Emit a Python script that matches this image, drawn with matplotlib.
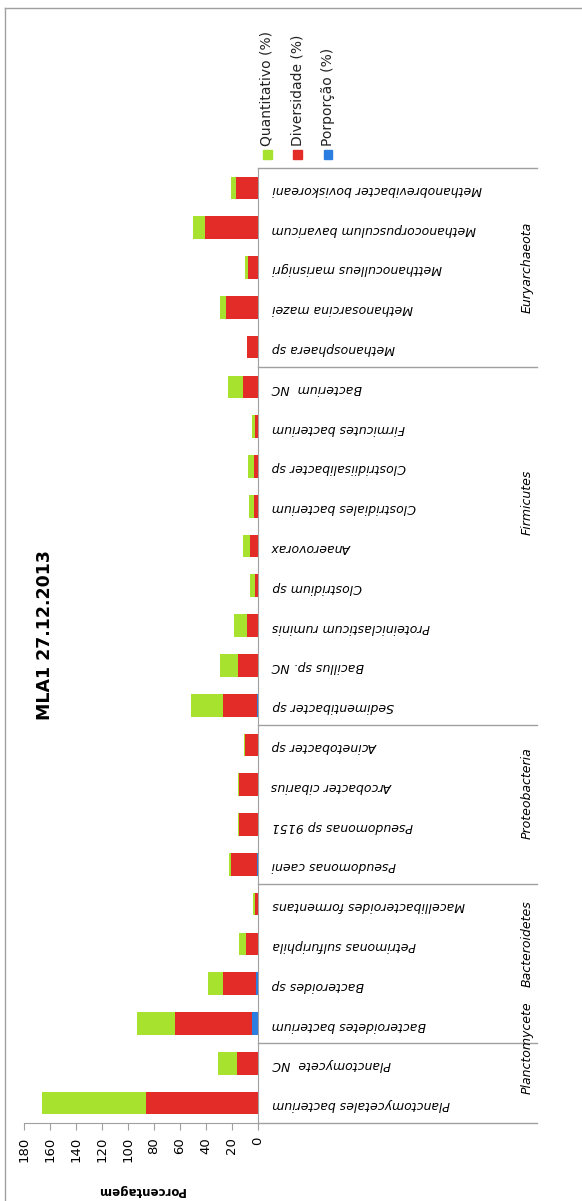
import numpy as np
import matplotlib.pyplot as plt
from matplotlib.patches import Rectangle
from matplotlib.lines import Line2D

### data ###
species = ['Methanobrevibacter boviskoreani', 'Methanocorpusculum bavaricum',
           'Metthanoculleus marisnigri', 'Methanosarcina mazei', 'Methanosphaera sp',
           'Bacterium  NC', 'Firmicutes bacterium', 'Clostridiisalibacter sp',
           'Clostridiales bacterium', 'Anaerovorax', 'Clostridium sp',
           'Proteiniclasticum ruminis', 'Bacillus sp. NC', 'Sedimentibacter sp',
           'Acinetobacter sp', 'Arcobacter cibarius', 'Pseudomonas sp 9151',
           'Pseudomonas caeni', 'Macellibacteroides formentans', 'Petrimonas sulfuriphila',
           'Bacteroides sp', 'Bacteroidetes bacterium', 'Planctomycete  NC',
           'Planctomycetales bacterium']
porporcao = [0, 0, 0, 0, 0,
             0, 0, 0, 0, 0, 0, 0, 0, 0.8,
             0, 0, 0, 0.8,
             0, 0, 1.3, 4.3,
             0, 0]
diversidade = [16.6, 40.9, 7.7, 24.5, 8.2,
               11.6, 2.0, 3.1, 3.1, 5.9, 2.0, 8.7, 15.6, 26.3,
               9.7, 14.8, 14.8, 20.0,
               2.5, 9.5, 25.8, 59.5,
               16.1, 86.0]
quantitativo = [4.1, 8.9, 2.3, 4.9, 0.6,
                11.8, 2.8, 4.9, 3.8, 5.9, 4.1, 10.0, 13.8, 24.5,
                0.8, 0.8, 0.8, 1.5,
                1.2, 4.9, 11.5, 29.4,
                14.8, 79.8]
groups = ['Euryarchaeota', 'Firmicutes', 'Proteobacteria', 'Bacteroidetes', 'Planctomycete']
group_sizes = [5, 9, 4, 4, 2]
# where excel put the (rotated) group captions, in category units
group_label_pos = [2.0, 7.9, 15.2, 19.0, 21.6]

c_green = '#A6E22E'
c_red = '#E32B27'
c_blue = '#2C7DE0'
c_line = '#A0A0A0'

W, H = 582, 1201
fig = plt.figure(figsize=(W/100, H/100), dpi=100)

# axes box in pixels: value 0 at x=258, 180 at x=24, categories from y=168 to y=1123
x0, x1, ytop, ybot = 24, 258, 168, 1123
ax = fig.add_axes([x0/W, 1-ybot/H, (x1-x0)/W, (ybot-ytop)/H])

y = np.arange(len(species))
p = np.array(porporcao)
d = np.array(diversidade)
q = np.array(quantitativo)
ax.barh(y, p, height=0.57, color=c_blue)
ax.barh(y, d, left=p, height=0.57, color=c_red)
ax.barh(y, q, left=p+d, height=0.57, color=c_green)

ax.set_xlim(180, 0)
ax.set_ylim(len(species)-0.5, -0.5)

for s in ['top', 'left']:
    ax.spines[s].set_visible(False)
for s in ['bottom', 'right']:
    ax.spines[s].set_color(c_line)

ax.set_xticks(np.arange(0, 181, 20))
ax.tick_params(axis='x', direction='out', length=5, color=c_line, labelsize=9.5, labelrotation=90, pad=5)

ax.yaxis.tick_right()
ax.set_yticks(y)
ax.set_yticklabels(species, rotation=180, style='italic', fontsize=9)
ax.tick_params(axis='y', length=0, pad=10)

ax.set_xlabel('Porcentagem', rotation=180, fontweight='bold', fontsize=8.5, labelpad=16)

# group separators and captions
tr = ax.get_yaxis_transform()
xend = (537 - x0) / (x1 - x0)
bounds = np.concatenate([[0], np.cumsum(group_sizes)]) - 0.5
for b in bounds:
    ax.add_line(Line2D([1, xend], [b, b], transform=tr, color=c_line, lw=1, clip_on=False))
xlab = (527 - x0) / (x1 - x0)
for g, pos in zip(groups, group_label_pos):
    ax.text(xlab, pos, g, transform=tr, rotation=90, style='italic', fontsize=9,
            ha='center', va='center', clip_on=False)

# title
fig.text(45/W, 1-635/H, 'MLA1 27.12.2013', rotation=90, fontweight='bold', fontsize=12.5,
         ha='center', va='center')

# legend (rotated like the rest of the chart)
leg_names = ['Quantitativo (%)', 'Diversidade (%)', 'Porporção (%)']
leg_cols = [c_green, c_red, c_blue]
for i, (nm, cl) in enumerate(zip(leg_names, leg_cols)):
    cx = 267 + i*30.5
    fig.patches.append(Rectangle(((cx-4.5)/W, 1-(154+4.5)/H), 9/W, 9/H,
                                 transform=fig.transFigure, color=cl))
    fig.text(cx/W, 1-146/H, nm, rotation=90, fontsize=10, ha='center', va='bottom', color='#222222')

# chart frame
fig.lines.append(Line2D([5/W, 5/W], [0, 1-8/H], transform=fig.transFigure, color=c_line, lw=1))
fig.lines.append(Line2D([5/W, 1], [1-8/H, 1-8/H], transform=fig.transFigure, color=c_line, lw=1))

fig.savefig('out.png', dpi=100)
